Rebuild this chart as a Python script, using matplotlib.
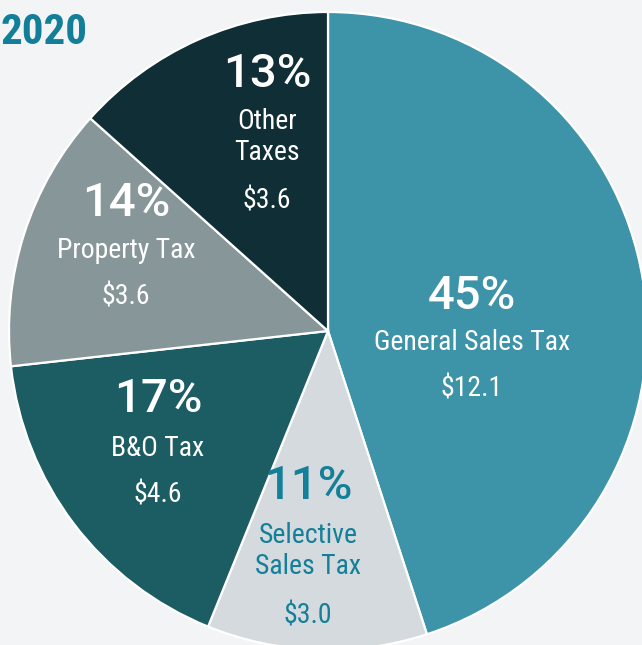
import matplotlib.pyplot as plt
from matplotlib import font_manager

# tax revenue 2020, billions
labels = ['General Sales Tax', 'Selective\nSales Tax', 'B&O Tax', 'Property Tax', 'Other\nTaxes']
amounts = [12.1, 3.0, 4.6, 3.6, 3.6]
pct_labels = ['45%', '11%', '17%', '14%', '13%']
amount_labels = ['$12.1', '$3.0', '$4.6', '$3.6', '$3.6']

colors = ['#3d93a7', '#d4dadd', '#1c5c63', '#879699', '#0f2e35']
text_colors = ['white', '#137f98', 'white', 'white', 'white']

installed = {f.name for f in font_manager.fontManager.ttflist}
narrow = 'DejaVu Sans'
for name in ['Roboto Condensed', 'Liberation Sans Narrow', 'Open Sans Condensed', 'Roboto']:
    if name in installed:
        narrow = name
        break
bold_font = 'Roboto' if 'Roboto' in installed else 'DejaVu Sans'

W, H = 642, 645
fig = plt.figure(figsize=(6.42, 6.45), dpi=100)
fig.patch.set_facecolor('#f2f4f6')
ax = fig.add_axes([0, 0, 1, 1])
ax.set_facecolor('#f2f4f6')

cx, cy, r = 328, H - 331, 319
ax.pie(amounts, colors=colors, startangle=90, counterclock=False,
       radius=r, center=(cx, cy),
       wedgeprops=dict(edgecolor='white', linewidth=1.6))
ax.set_xlim(0, W)
ax.set_ylim(0, H)
ax.set_aspect('equal')
ax.axis('off')

# label positions (pixel coords from the top-left), pct / name / amount
pos = [(472, 296, 343, 389),
       (308, 486, 551, 616),
       (158, 399, 449, 495),
       (126, 203, 250, 297),
       (267, 74, 137, 201)]

for i, (x, yp, yn, ya) in enumerate(pos):
    c = text_colors[i]
    ax.text(x, H - yp, pct_labels[i], ha='center', va='center', color=c,
            fontsize=34, fontweight='medium', family=bold_font)
    ax.text(x, H - yn, labels[i], ha='center', va='center', color=c,
            fontsize=20, family=narrow, fontstretch='condensed', linespacing=1.2)
    ax.text(x, H - ya, amount_labels[i], ha='center', va='center', color=c,
            fontsize=20, family=narrow, fontstretch='condensed')

ax.text(0, H - 33, '2020', ha='left', va='center', color='#127e98',
        fontsize=31, fontweight='bold', family=narrow, fontstretch='condensed')

fig.savefig('out.png', dpi=100, facecolor=fig.get_facecolor())
